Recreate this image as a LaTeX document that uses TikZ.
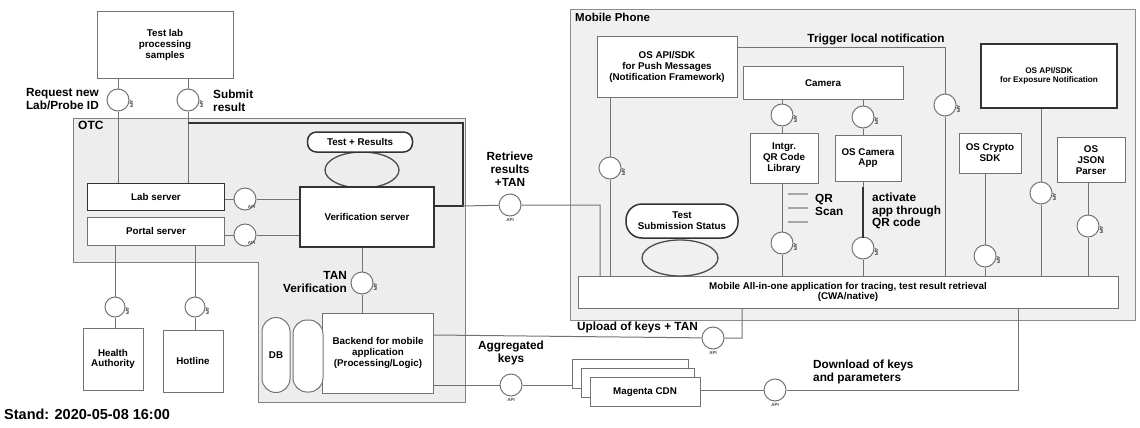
\documentclass[tikz,border=0pt]{standalone}
\usepackage{fontspec}
\setmainfont{Liberation Sans}
\usetikzlibrary{shapes.geometric,positioning}
\begin{document}
\begin{tikzpicture}[x=1pt,y=-1pt,
  font=\bfseries\fontsize{9.8}{10.8}\selectfont,
  box/.style={draw=black!55, line width=1pt, fill=white, align=center, inner sep=2pt},
  darkbox/.style={box, draw=black!80, line width=1.5pt},
  lp/.style={circle, draw=black!55, line width=1pt, fill=white, minimum size=22pt, inner sep=0pt},
  conn/.style={draw=black!55, line width=1pt},
  darkconn/.style={draw=black!80, line width=1.5pt},
  lbl/.style={font=\bfseries\fontsize{11.8}{12.8}\selectfont, align=center, inner sep=1pt},
  tinylbl/.style={font=\bfseries\fontsize{4.5}{5}\selectfont, rotate=-90, inner sep=0.5pt, text=black!80},
  blbl/.style={font=\bfseries\fontsize{4.5}{5}\selectfont, inner sep=0.5pt, text=black!70},
  bubble/.style={draw=black!80, line width=1.5pt, fill=white, rounded corners=9pt, align=center, inner sep=2pt},
  loopell/.style={ellipse, draw=black!70, line width=1.3pt, inner sep=0pt}]
\useasboundingbox (0,0) rectangle (1140,428);

% ---------- containers ----------
\path[fill=black!7, draw=black!50, line width=1pt]
  (73,118) -- (465,118) -- (465,402) -- (258,402) -- (258,262) -- (73,262) -- cycle;
\node[anchor=north west, font=\bfseries\fontsize{12}{13}\selectfont, inner sep=1pt] (otc) at (77,120) {OTC};

\path[fill=black!6, draw=black!45, line width=1pt] (570,10) rectangle (1135,320);
\node[anchor=north west, font=\bfseries\fontsize{11.5}{12.5}\selectfont, inner sep=1pt] (mp) at (574,12) {Mobile Phone};

% ---------- test lab ----------
\node[box, minimum width=136pt, minimum height=66pt] (testlab) at (165,45) {Test lab\\processing\\samples};
\node[lp] (lpReq) at (118,100) {};
\node[lp] (lpSub) at (188,100) {};
\node[tinylbl, right=2pt of lpReq] (tReq) {API};
\node[tinylbl, right=2pt of lpSub] (tSub) {API};
\node[lbl, anchor=east, align=right] (reqtxt) at (100,99) {Request new\\Lab/Probe ID};
\node[lbl, anchor=west, align=left] (subtxt) at (212,101) {Submit\\result};

% ---------- OTC servers ----------
\node[darkbox, minimum width=137pt, minimum height=27pt] (lab) at (156,197) {Lab server};
\node[box, minimum width=137pt, minimum height=28pt] (portal) at (156,231) {Portal server};
\node[lp] (lpLab) at (245,199) {};
\node[lp] (lpPortal) at (245,235) {};
\node[blbl, below right=-2pt and -6pt of lpLab] (tLab) {API};
\node[blbl, below right=-2pt and -6pt of lpPortal] (tPortal) {API};

\node[loopell, minimum width=74pt, minimum height=36pt] (vloop) at (362,170) {};
\node[bubble, minimum width=105pt, minimum height=20pt] (testres) at (360,142) {Test + Results};
\node[darkbox, minimum width=134pt, minimum height=60pt] (verif) at (367,217) {Verification server};

\coordinate (jv) at (463,206);
\coordinate (jtop) at (463,123);
\coordinate (jsub) at (188,123);

\node[lp] (lpTAN) at (362,283) {};
\node[tinylbl, right=2pt of lpTAN] (tTAN) {API};
\node[lbl, anchor=east, align=right] (tantxt) at (348,282) {TAN\\Verification};

\node[box, minimum width=111pt, minimum height=80pt] (backend) at (378,353) {Backend for mobile\\application\\(Processing/Logic)};
\node[box, rounded corners=14pt, minimum width=30pt, minimum height=72pt] (db2) at (308,356) {};
\node[box, rounded corners=14pt, minimum width=28pt, minimum height=75pt] (db) at (276,355) {DB};

% ---------- health authority / hotline ----------
\node[box, minimum width=60pt, minimum height=62pt] (ha) at (113,359) {Health\\Authority};
\node[box, minimum width=60pt, minimum height=62pt] (hot) at (193,361) {Hotline};
\node[lp, minimum size=20pt] (lpHA) at (115,307) {};
\node[lp, minimum size=20pt] (lpHot) at (195,307) {};
\node[tinylbl, right=2pt of lpHA] (tHA) {API};
\node[tinylbl, right=2pt of lpHot] (tHot) {API};

\node[anchor=west, font=\bfseries\fontsize{14.5}{15}\selectfont, inner sep=0pt] (stand) at (4,414) {Stand: 2020-05-08 16:00};

% ---------- retrieve / upload / aggregated / download ----------
\node[lp] (lpRet) at (510,205) {};
\node[blbl, below=1pt of lpRet] (tRet) {API};
\node[lbl] (rettxt) at (510,169) {Retrieve\\results\\+TAN};

\node[lp] (lpUp) at (713,338) {};
\node[blbl, below=1pt of lpUp] (tUp) {API};
\node[lbl, anchor=east] (uptxt) at (699,327) {Upload of keys + TAN};

\node[lp] (lpAgg) at (511,385) {};
\node[blbl, below=1pt of lpAgg] (tAgg) {API};
\node[lbl] (aggtxt) at (511,353) {Aggregated\\keys};

\node[box, minimum width=116pt, minimum height=29pt] (cdn3) at (630,374) {};
\node[box, minimum width=113pt, minimum height=29pt] (cdn2) at (638,383) {};
\node[box, minimum width=110pt, minimum height=29pt] (cdn) at (645,392) {Magenta CDN};

\node[lp] (lpDl) at (775,390) {};
\node[blbl, below=1pt of lpDl] (tDl) {API};
\node[lbl, anchor=west, align=left] (dltxt) at (812,372) {Download of keys\\and parameters};

% ---------- mobile phone ----------
\node[box, minimum width=540pt, minimum height=32pt] (app) at (848,292)
  {Mobile All-in-one application for tracing, test result retrieval\\(CWA/native)};

\node[box, minimum width=140pt, minimum height=60pt] (push) at (667,67) {OS API/SDK\\for Push Messages\\(Notification Framework)};
\node[box, minimum width=160pt, minimum height=33pt] (camera) at (823,83) {Camera};
\node[box, minimum width=68pt, minimum height=50pt] (qrlib) at (784,158) {Intgr.\\QR Code\\Library};
\node[box, minimum width=66pt, minimum height=46pt] (camapp) at (868,158) {OS Camera\\App};
\node[box, minimum width=62pt, minimum height=40pt] (crypto) at (990,153) {OS Crypto\\SDK};
\node[darkbox, minimum width=136pt, minimum height=64pt, font=\bfseries\fontsize{8.2}{9.5}\selectfont] (expo) at (1049,76) {OS API/SDK\\for Exposure Notification};
\node[box, minimum width=68pt, minimum height=45pt] (json) at (1091,160) {OS\\JSON\\Parser};

\node[lp] (lpPush) at (610,168) {};
\node[lp] (lpTrig) at (945,105) {};
\node[lp] (lpCam1) at (782,115) {};
\node[lp] (lpCam2) at (863,117) {};
\node[lp] (lpQR) at (782,243) {};
\node[lp] (lpCA) at (863,248) {};
\node[lp] (lpCry) at (985,256) {};
\node[lp] (lpExp) at (1041,193) {};
\node[lp] (lpJson) at (1088,226) {};
\foreach \n in {lpPush,lpTrig,lpCam1,lpCam2,lpQR,lpCA,lpCry,lpExp,lpJson}
  \node[tinylbl, right=2pt of \n] {API};

\node[lbl, anchor=south] (trigtxt) at (876,46) {Trigger local notification};
\node[lbl, anchor=west, align=left] (qrtxt) at (814,205) {QR\\Scan};
\node[lbl, anchor=west, align=left] (acttxt) at (871,211) {activate\\app through\\QR code};

\node[loopell, minimum width=76pt, minimum height=36pt] (sloop) at (680,258) {};
\node[bubble, rounded corners=16pt, minimum width=112pt, minimum height=34pt] (subst) at (682,221) {Test\\Submission Status};

% ---------- connectors ----------
\draw[conn] (testlab.south -| lpReq) -- (lpReq) -- (lpReq |- lab.north);
\draw[conn] (testlab.south -| lpSub) -- (lpSub) -- (lpSub |- lab.north);
\draw[conn] (lab.east |- lpLab) -- (lpLab) -- (lpLab -| verif.west);
\draw[conn] (portal.east |- lpPortal) -- (lpPortal) -- (lpPortal -| verif.west);
\draw[conn] (portal.south -| lpHA) -- (lpHA) -- (ha.north -| lpHA);
\draw[conn] (portal.south -| lpHot) -- (lpHot) -- (hot.north -| lpHot);
\draw[darkconn] (verif.east |- jv) -- (jv) -- (jtop) -- (jsub);
\draw[conn] (jv) -- (lpRet) -- (600,205) -- (600,276);
\draw[conn] (verif.south -| lpTAN) -- (lpTAN) -- (backend.north -| lpTAN);
\draw[conn] (backend.east |- 0,335) -- (lpUp) -- (742,338) -- (742,308);
\draw[conn] (backend.east |- lpAgg) -- (lpAgg) -- (cdn3.west |- lpAgg);
\draw[conn] (cdn.east |- lpDl) -- (lpDl) -- (1018,390) -- (1018,308);

\draw[conn] (push.south -| lpPush) -- (lpPush) -- (app.north -| lpPush);
\draw[conn] (push.east |- 0,48) -- (945,48) -- (lpTrig) -- (app.north -| lpTrig);
\draw[conn] (camera.south -| lpCam1) -- (lpCam1) -- (qrlib.north -| lpCam1);
\draw[conn] (camera.south -| lpCam2) -- (lpCam2) -- (camapp.north -| lpCam2);
\draw[conn] (qrlib.south -| lpQR) -- (lpQR) -- (app.north -| lpQR);
\draw[conn] (camapp.south -| lpCA) -- (lpCA) -- (app.north -| lpCA);
\draw[darkconn] (863,187) -- (863,238);
\draw[conn] (crypto.south -| lpCry) -- (lpCry) -- (app.north -| lpCry);
\draw[conn] (expo.south -| lpExp) -- (lpExp) -- (app.north -| lpExp);
\draw[conn] (json.south -| lpJson) -- (lpJson) -- (app.north -| lpJson);
\foreach \yy in {194,208,222}
  \draw[draw=black!35, line width=2.5pt] (788,\yy) -- (808,\yy);
\end{tikzpicture}
\end{document}
